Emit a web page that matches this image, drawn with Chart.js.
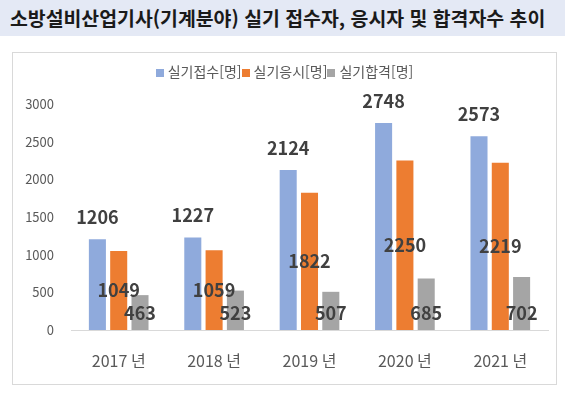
<!DOCTYPE html>
<html lang="ko">
<head>
<meta charset="utf-8">
<script src="https://cdn.jsdelivr.net/npm/chart.js@4"></script>
<style>
  html, body { margin: 0; padding: 0; background: #fff; }
  body { width: 565px; height: 394px; position: relative; overflow: hidden;
         font-family: 'Noto Sans CJK KR', 'Noto Sans', sans-serif; }
  .title { position: absolute; left: 0; top: 0; width: 565px; height: 36px;
           background: #e4e9f5; }
  .title span { position: absolute; left: 10px; top: 4px; font-size: 19.4px;
                font-weight: bold; color: #1a1a1a; white-space: nowrap; line-height: 28px; }
  .box { position: absolute; left: 12px; top: 52px; width: 543px; height: 331px;
         border: 1px solid #d9d9d9; }
  .box canvas { position: absolute; left: 0; top: 0; }
  #legend { position: absolute; left: 0; top: 8px; width: 543px; text-align: center;
            font-size: 14px; color: #595959; white-space: nowrap; }
  .chart-legend-item { display: inline-block; }
</style>
</head>
<body>
<div class="title"><span>소방설비산업기사(기계분야) 실기 접수자, 응시자 및 합격자수 추이</span></div>
<div class="box">
  <canvas id="myChart" width="543" height="331"></canvas>
  <div id="legend"></div>
</div>
<script>
const labels = ['2017 년', '2018 년', '2019 년', '2020 년', '2021 년'];
const seriesNames = ['실기접수[명]', '실기응시[명]', '실기합격[명]'];
const colors = ['#8faadc', '#ed7d31', '#a5a5a5'];

// 연도별 인원
const applied = [1206, 1227, 2124, 2748, 2573];
const tested = [1049, 1059, 1822, 2250, 2219];
const passed = [463, 523, 507, 685, 702];

const yTicks = [0, 500, 1000, 1500, 2000, 2500, 3000];

const data = {
    labels: labels,
    datasets: [applied, tested, passed].map((values, i) => ({
        label: seriesNames[i],
        data: values,
        backgroundColor: colors[i],
        categoryPercentage: 0.67,
        barPercentage: 0.8,
    }))
};

// 막대 위 숫자 표시
const valueLabels = {
    id: 'valueLabels',
    afterDatasetsDraw(chart) {
        const ctx = chart.ctx;
        ctx.save();
        ctx.font = 'bold 18px "Noto Sans CJK KR", "Noto Sans", sans-serif';
        ctx.fillStyle = '#404040';
        ctx.textAlign = 'center';
        ctx.textBaseline = 'middle';
        chart.data.datasets.forEach((ds, i) => {
            chart.getDatasetMeta(i).data.forEach((bar, j) => {
                let y;
                if (i === 0) y = bar.y - 22;
                else if (i === 1) y = (bar.y + bar.base) / 2;
                else y = bar.base - 17;
                ctx.fillText(String(ds.data[j]), bar.x, y);
            });
        });
        ctx.restore();
    }
};

const chart = new Chart(document.getElementById('myChart'), {
    type: 'bar',
    data: data,
    plugins: [valueLabels],
    options: {
        responsive: false,
        animation: false,
        layout: { padding: { top: 51, right: 8, left: 0, bottom: 0 } },
        plugins: {
            legend: { display: false },
            tooltip: { enabled: false }
        },
        scales: {
            x: {
                grid: { display: false, drawTicks: false },
                border: { display: true, color: '#d9d9d9', width: 1 },
                ticks: {
                    color: '#595959',
                    padding: 21,
                    font: { size: 16, family: '"Noto Sans CJK KR", "Noto Sans", sans-serif' }
                },
                afterFit: (scale) => { scale.height = 54; }
            },
            y: {
                min: 0,
                max: 3000,
                afterBuildTicks: (scale) => { scale.ticks = yTicks.map(v => ({ value: v })); },
                grid: { display: false, drawTicks: false },
                border: { display: false },
                ticks: {
                    color: '#595959',
                    padding: 17,
                    callback: (v) => String(v),
                    font: { size: 13, family: '"Noto Sans CJK KR", "Noto Sans", sans-serif' }
                },
                afterFit: (scale) => { scale.width = 58; }
            }
        }
    }
});

// 범례 만들기
const createLegend = (legendId, data) => {
    const legendContainer = document.getElementById(legendId);
    data.datasets.forEach((ds) => {
        const legendItem = document.createElement('div');
        legendItem.classList.add('chart-legend-item');

        const colorBox = document.createElement('span');
        colorBox.style.display = 'inline-block';
        colorBox.style.width = '8px';
        colorBox.style.height = '8px';
        colorBox.style.backgroundColor = ds.backgroundColor;
        colorBox.style.marginRight = '4px';

        const labelText = document.createElement('span');
        labelText.textContent = ds.label;

        legendItem.appendChild(colorBox);
        legendItem.appendChild(labelText);
        legendContainer.appendChild(legendItem);
    });
};

createLegend('legend', data);
</script>
</body>
</html>
